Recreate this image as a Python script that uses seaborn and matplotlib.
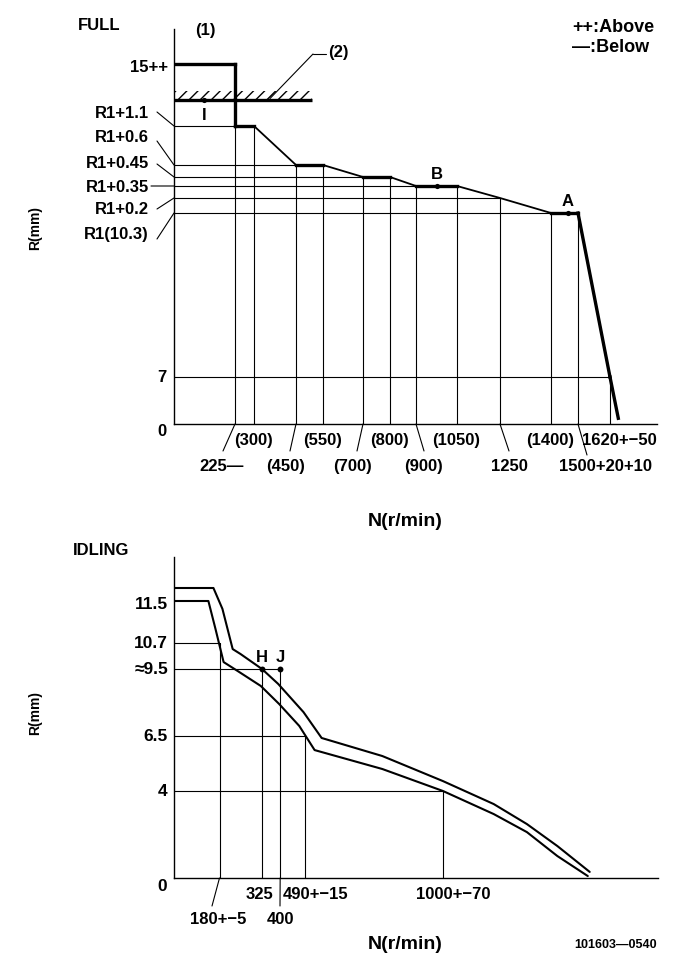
import numpy as np
import pandas as pd
import matplotlib
matplotlib.use("Agg")
import matplotlib.pyplot as plt
import seaborn as sns
from matplotlib.transforms import Affine2D

# ---------------- data : FULL ----------------
full_rpm = [0, 225, 225, 300, 450, 550, 700, 800, 900, 1050, 1250, 1400, 1500, 1620, 1650]
full_R = [15, 15, 11.4, 11.4, 10.9, 10.9, 10.75, 10.75, 10.65, 10.65, 10.5, 10.3, 10.3, 7.0, 0.85]
full_xticks = [225, 300, 450, 550, 700, 800, 900, 1050, 1250, 1400, 1500, 1620]
full_xlabels = ["225\u2014", "(300)", "(450)", "(550)", "(700)", "(800)", "(900)",
                "(1050)", "1250", "(1400)", "1500+20+10", "1620+\u221250"]
full_yticks = [15, 11.4, 10.9, 10.75, 10.65, 10.5, 10.3, 7, 0]
full_ylabels = ["15++", "R1+1.1", "R1+0.6", "R1+0.45", "R1+0.35", "R1+0.2", "R1(10.3)", "7", "0"]
stopper_R = 12.5
stopper_rpm = [0, 509]
full_pt_names = ["I", "B", "A"]
full_pt_rpm = [111, 975, 1463]
full_pt_R = [12.5, 10.65, 10.3]

# ---------------- data : IDLING ----------------
idle_hi_rpm = [0, 156, 190, 225, 252, 325, 392, 483, 550, 775, 1000, 1185, 1306, 1417, 1535]
idle_hi_R = [12.1, 12.1, 11.35, 10.42, 10.19, 9.5, 8.83, 7.57, 6.41, 5.59, 4.45, 3.40, 2.48, 1.47, 0.28]
idle_lo_rpm = [0, 136, 164, 194, 242, 321, 396, 468, 524, 775, 1000, 1185, 1306, 1417, 1528]
idle_lo_R = [11.5, 11.5, 10.97, 9.82, 9.41, 8.74, 7.93, 6.95, 5.86, 5.0, 4.0, 2.94, 2.11, 1.01, 0.09]
idle_xticks = [180, 325, 400, 490, 1000]
idle_xlabels = ["180+\u22125", "325", "400", "490+\u221215", "1000+\u221270"]
idle_check_R = [10.7, 9.5, 9.5, 6.5, 4.0]
idle_yticks = [11.5, 10.7, 9.5, 6.5, 4, 0]
idle_ylabels = ["11.5", "10.7", "\u22489.5", "6.5", "4", "0"]
idle_pt_names = ["H", "J"]
idle_pt_rpm = [325, 400]
idle_pt_R = [9.5, 9.5]

# ---------------- layout ----------------
W, H = 685, 979
sns.set_style("white")
FONT = ["Liberation Sans", "DejaVu Sans"]
plt.rcParams["font.family"] = FONT
plt.rcParams["font.weight"] = "bold"
plt.rcParams["text.color"] = "black"
FS = 12

fig = plt.figure(figsize=(W / 100, H / 100), dpi=100)
P = Affine2D().scale(1 / W, -1 / H).translate(0, 1) + fig.transFigure


def scale_funcs(kv, kp, flip=False):
    kv = np.asarray(kv, float)
    kp = np.asarray(kp, float)
    if flip:
        kp = -kp
    return (lambda v: np.interp(v, kv, kp)), (lambda p: np.interp(p, kp, kv))


def make_axes(x0, x1, ytop, ybot):
    ax = fig.add_axes([x0 / W, 1 - ybot / H, (x1 - x0) / W, (ybot - ytop) / H])
    ax.patch.set_alpha(0)
    for s in ["top", "right"]:
        ax.spines[s].set_visible(False)
    for s in ["left", "bottom"]:
        ax.spines[s].set_color("black")
        ax.spines[s].set_linewidth(1.0)
    return ax


THIN = 0.8
K = "black"
LEAD = dict(arrowstyle="-", lw=THIN, color=K, shrinkA=0, shrinkB=0)

# ================= FULL =================
ax1 = make_axes(174, 657, 30, 425)
sns.lineplot(x=full_rpm, y=full_R, sort=False, estimator=None, color=K, lw=1.3, ax=ax1)
n = len(full_rpm)
for i in range(n - 1):
    flat = full_R[i] == full_R[i + 1] or full_rpm[i] == full_rpm[i + 1] or i >= n - 3
    if flat:
        ax1.plot(full_rpm[i:i + 2], full_R[i:i + 2], color=K, lw=2.4, solid_capstyle="projecting")
# guides
for t in full_xticks:
    top = min(r for x, r in zip(full_rpm, full_R) if x == t)
    ax1.plot([t, t], [0, top], color=K, lw=THIN)
for r in full_yticks[1:-1]:
    xr = min(x for x, rr in zip(full_rpm, full_R) if rr == r)
    ax1.plot([0, xr], [r, r], color=K, lw=THIN)
# stopper (2) with hatch
ax1.plot(stopper_rpm, [stopper_R, stopper_R], color=K, lw=2.4, solid_capstyle="butt")
ax1.fill_between(stopper_rpm, stopper_R + 0.08, stopper_R + 0.6, facecolor="none",
                 edgecolor=K, hatch="///", linewidth=0)
# points
sns.scatterplot(x=full_pt_rpm, y=full_pt_R, color=K, s=14, ax=ax1, zorder=5, linewidth=0)
ax1.annotate(full_pt_names[0], (full_pt_rpm[0], full_pt_R[0]), xytext=(0, -14),
             textcoords="offset pixels", ha="center", va="center", fontsize=FS)
for nm, x, r in zip(full_pt_names[1:], full_pt_rpm[1:], full_pt_R[1:]):
    ax1.annotate(nm, (x, r), xytext=(0, 13), textcoords="offset pixels",
                 ha="center", va="center", fontsize=FS)

fx, fy = (scale_funcs([0, 225, 300, 450, 550, 700, 800, 900, 1050, 1250, 1400, 1500, 1620, 1790],
                      [174, 235, 254, 296, 323, 363, 390, 416, 457, 500, 551, 578, 610, 657]),
          scale_funcs([0, 7, 10.3, 10.5, 10.65, 10.75, 10.9, 11.4, 12.5, 15, 16.6],
                      [425, 378, 214, 199, 187, 178, 166, 127, 101, 65, 30], flip=True))
ax1.set_xscale("function", functions=fx)
ax1.set_yscale("function", functions=fy)
ax1.set_xlim(0, 1790)
ax1.set_ylim(0, 16.6)
ax1.set_xticks([])
ax1.set_yticks([])
ax1.set(xlabel="", ylabel="")

# y labels (FULL)
full_ylab_pos = [(168, 68, None), (149, 113, (157, 113)), (149, 138, (157, 142)),
                 (149, 163, (157, 165)), (149, 187, (151, 187)), (149, 210, (157, 210)),
                 (149, 235, (157, 240)), (167, 378, None), (167, 432, None)]
for lab, val, (tx, ty, lead) in zip(full_ylabels, full_yticks, full_ylab_pos):
    fig.text(tx, ty, lab, transform=P, ha="right", va="center", fontsize=FS)
    if lead is not None:
        ax1.annotate("", xy=(0, val), xycoords="data", xytext=lead, textcoords=P, arrowprops=LEAD)
# x labels (FULL)
full_xlab_pos = [(222, 467, (223, 452)), (254, 441, None), (286, 467, (290, 452)),
                 (323, 441, None), (353, 467, (357, 452)), (390, 441, None),
                 (424, 467, (424, 452)), (456, 441, None), (509, 467, (509, 452)),
                 (550, 441, None), (606, 467, (587, 456)), (619, 441, None)]
for lab, val, (tx, ty, lead) in zip(full_xlabels, full_xticks, full_xlab_pos):
    fig.text(tx, ty, lab, transform=P, ha="center", va="center", fontsize=FS)
    if lead is not None:
        ax1.annotate("", xy=(val, 0), xycoords="data", xytext=lead, textcoords=P, arrowprops=LEAD)
# (2) leader
ax1.annotate("", xy=(357, stopper_R + 0.1), xycoords="data", xytext=(313, 55), textcoords=P,
             arrowprops=LEAD)
fig.add_artist(plt.Line2D([313, 326], [55, 55], transform=P, color=K, lw=THIN))
fig.text(338, 53, "(2)", transform=P, ha="center", va="center", fontsize=FS)
fig.text(205, 31, "(1)", transform=P, ha="center", va="center", fontsize=FS)
fig.text(78, 26, "FULL", transform=P, ha="left", va="center", fontsize=FS)
fig.text(572, 27, "++:Above", transform=P, ha="left", va="center", fontsize=13)
fig.text(572, 47, "\u2014:Below", transform=P, ha="left", va="center", fontsize=13)
fig.text(35, 228, "R(mm)", transform=P, ha="center", va="center", fontsize=10, rotation=90)
fig.text(405, 522, "N(r/min)", transform=P, ha="center", va="center", fontsize=14)

# ================= IDLING =================
ax2 = make_axes(174, 658, 558, 879)
band = pd.DataFrame({
    "rpm": idle_hi_rpm + idle_lo_rpm,
    "R": idle_hi_R + idle_lo_R,
    "edge": ["upper"] * len(idle_hi_rpm) + ["lower"] * len(idle_lo_rpm),
})
sns.lineplot(data=band, x="rpm", y="R", hue="edge", palette={"upper": K, "lower": K},
             sort=False, estimator=None, lw=1.5, legend=False, ax=ax2)
for t, r in zip(idle_xticks, idle_check_R):
    ax2.plot([t, t], [0, r], color=K, lw=THIN)
for r in sorted(set(idle_check_R)):
    xr = max(t for t, rr in zip(idle_xticks, idle_check_R) if rr == r)
    ax2.plot([0, xr], [r, r], color=K, lw=THIN)
sns.scatterplot(x=idle_pt_rpm, y=idle_pt_R, color=K, s=18, ax=ax2, zorder=5, linewidth=0)
for nm, x, r in zip(idle_pt_names, idle_pt_rpm, idle_pt_R):
    ax2.annotate(nm, (x, r), xytext=(0, 13), textcoords="offset pixels",
                 ha="center", va="center", fontsize=FS)

gx, gy = (scale_funcs([0, 180, 325, 400, 490, 1000, 1800], [174, 219, 261, 279, 304, 440, 657]),
          scale_funcs([0, 4, 6.5, 9.5, 10.7, 11.5, 12.1, 13.4],
                      [879, 792, 737, 670, 644, 602, 589, 558], flip=True))
ax2.set_xscale("function", functions=gx)
ax2.set_yscale("function", functions=gy)
ax2.set_xlim(0, 1784)
ax2.set_ylim(0, 13.4)
ax2.set_xticks([])
ax2.set_yticks([])
ax2.set(xlabel="", ylabel="")

idle_ylab_pos = [(168, 605), (168, 644), (168, 670), (168, 737), (167, 792), (167, 887)]
for lab, (tx, ty) in zip(idle_ylabels, idle_ylab_pos):
    fig.text(tx, ty, lab, transform=P, ha="right", va="center", fontsize=12.5)
idle_xlab_pos = [(218, 920, (212, 907)), (260, 895, None), (281, 920, (280, 907)),
                 (316, 895, None), (453, 895, None)]
for lab, val, (tx, ty, lead) in zip(idle_xlabels, idle_xticks, idle_xlab_pos):
    fig.text(tx, ty, lab, transform=P, ha="center", va="center", fontsize=FS)
    if lead is not None:
        ax2.annotate("", xy=(val, 0), xycoords="data", xytext=lead, textcoords=P, arrowprops=LEAD)
fig.text(73, 551, "IDLING", transform=P, ha="left", va="center", fontsize=FS)
fig.text(35, 713, "R(mm)", transform=P, ha="center", va="center", fontsize=10, rotation=90)
fig.text(405, 945, "N(r/min)", transform=P, ha="center", va="center", fontsize=14)
fig.text(657, 945, "101603\u20140540", transform=P, ha="right", va="center", fontsize=9)

fig.savefig("out.png", dpi=100)
